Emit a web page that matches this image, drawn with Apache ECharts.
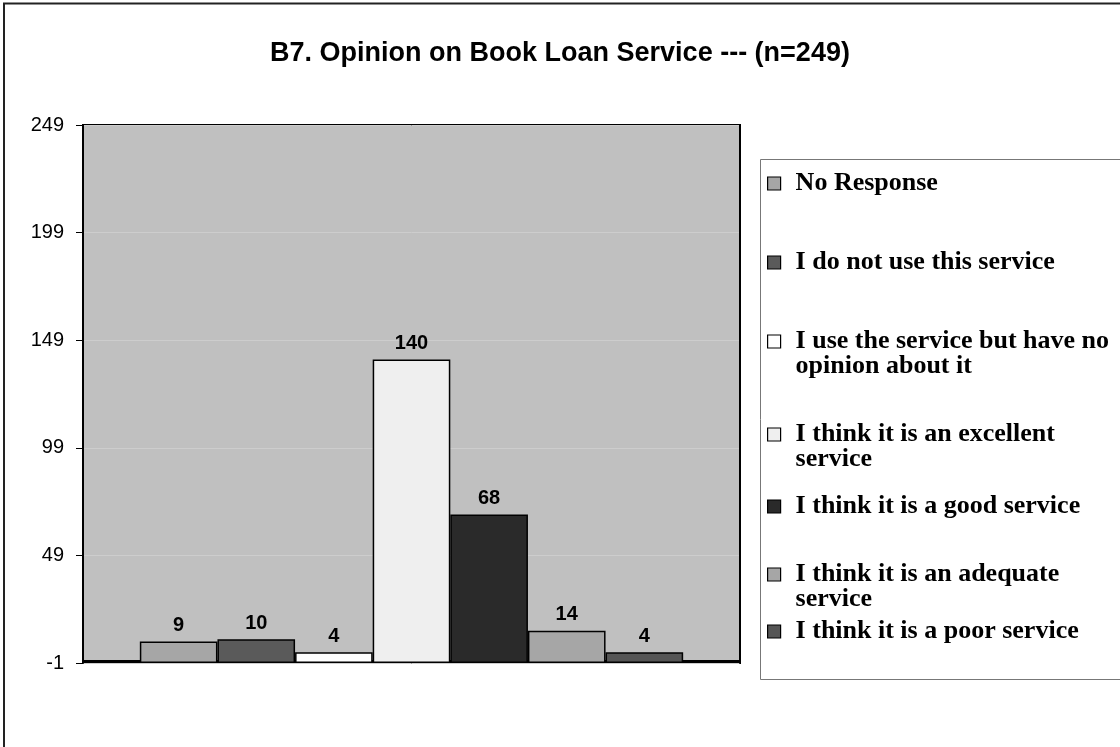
<!DOCTYPE html>
<html>
<head>
<meta charset="utf-8">
<script src="https://cdn.jsdelivr.net/npm/echarts@6/dist/echarts.min.js"></script>
<style>
html,body{margin:0;padding:0;background:#fff;}
#chart{width:1120px;height:747px;}
</style>
</head>
<body>
<div id="chart"></div>
<script>
// ---- data ----
const categories = ['B7'];
const seriesNames = [
  'No Response',
  'I do not use this service',
  'I use the service but have no opinion about it',
  'I think it is an excellent service',
  'I think it is a good service',
  'I think it is an adequate service',
  'I think it is a poor service'
];
const seriesValues = [9, 10, 4, 140, 68, 14, 4];
const legendText = [
  'No Response',
  'I do not use this service',
  'I use the service but have no\nopinion about it',
  'I think it is an excellent\nservice',
  'I think it is a good service',
  'I think it is an adequate\nservice',
  'I think it is a poor service'
];
const yTicks = [-1, 49, 99, 149, 199, 249];
const titleText = 'B7. Opinion on Book Loan Service --- (n=249)';

// ---- styles ----
const colors = ['#a6a6a6', '#5a5a5a', '#ffffff', '#efefef', '#2a2a2a', '#a6a6a6', '#555555'];
const legendCenters = [183, 262, 341, 434, 506, 574, 631];

const chart = echarts.init(document.getElementById('chart'), null, {renderer: 'canvas'});

const series = seriesNames.map((name, i) => ({
  name: name,
  type: 'bar',
  data: [seriesValues[i]],
  barGap: '0%',
  barCategoryGap: '17.3%',
  itemStyle: {color: colors[i], borderColor: '#000', borderWidth: 1.5},
  label: {
    show: true, position: 'top', distance: 6,
    fontFamily: 'Liberation Sans', fontWeight: 'bold', fontSize: 20, color: '#000'
  },
  emphasis: {disabled: true}
}));

const legends = seriesNames.map((name, i) => {
  const twoLine = legendText[i].indexOf('\n') >= 0;
  return {
    show: true,
    data: [name],
    left: 767,
    top: legendCenters[i] - (twoLine ? 37.5 : 12.5),
    padding: 0,
    itemWidth: 13,
    itemHeight: 13,
    icon: 'rect',
    selectedMode: false,
    itemStyle: {borderColor: '#000', borderWidth: 1.2},
    // an empty leading line keeps the first text line level with the icon
    formatter: () => (twoLine ? '\n' : '') + legendText[i],
    textStyle: {
      fontFamily: 'Liberation Serif', fontWeight: 'bold', fontSize: 26,
      color: '#000', lineHeight: 25,
      padding: [0, 0, 0, 10]
    }
  };
});

chart.setOption({
  animation: false,
  backgroundColor: '#ffffff',
  title: {
    text: titleText,
    left: 'center',
    top: 35,
    textStyle: {fontFamily: 'Liberation Sans', fontWeight: 'bold', fontSize: 27, color: '#000'}
  },
  legend: legends,
  grid: {
    left: 83, top: 125, right: 380, bottom: 84,
    show: true, backgroundColor: '#c0c0c0', borderColor: '#000', borderWidth: 2
  },
  xAxis: [
    {
      type: 'category',
      data: categories,
      axisLine: {show: true, lineStyle: {color: '#000', width: 2}},
      axisTick: {show: false},
      axisLabel: {show: false}
    },
    {
      type: 'category',
      data: categories,
      position: 'top',
      axisLine: {show: true, lineStyle: {color: '#000', width: 2}},
      axisTick: {show: false},
      axisLabel: {show: false}
    }
  ],
  yAxis: [
    {
      type: 'value',
      min: yTicks[0],
      max: yTicks[yTicks.length - 1],
      startValue: yTicks[0],
      axisLine: {show: true, lineStyle: {color: '#000', width: 2}},
      axisTick: {show: true, length: 7, lineStyle: {color: '#000'}, customValues: yTicks},
      axisLabel: {
        customValues: yTicks, margin: 19,
        fontFamily: 'Liberation Sans', fontSize: 20, color: '#000'
      },
      splitLine: {show: true, lineStyle: {color: '#cdcdcd', width: 1}}
    },
    {
      type: 'value',
      min: yTicks[0],
      max: yTicks[yTicks.length - 1],
      position: 'right',
      axisLine: {show: true, lineStyle: {color: '#000', width: 2}},
      axisTick: {show: false},
      axisLabel: {show: false},
      splitLine: {show: false}
    }
  ],
  graphic: [
    {type: 'rect', shape: {x: 4, y: 3.5, width: 1300, height: 900}, style: {fill: null, stroke: '#222', lineWidth: 2}, z: -10, silent: true},
    {type: 'rect', shape: {x: 760.5, y: 159.5, width: 500, height: 520}, style: {fill: null, stroke: '#777', lineWidth: 1}, z: -10, silent: true}
  ],
  series: series
});
</script>
</body>
</html>
